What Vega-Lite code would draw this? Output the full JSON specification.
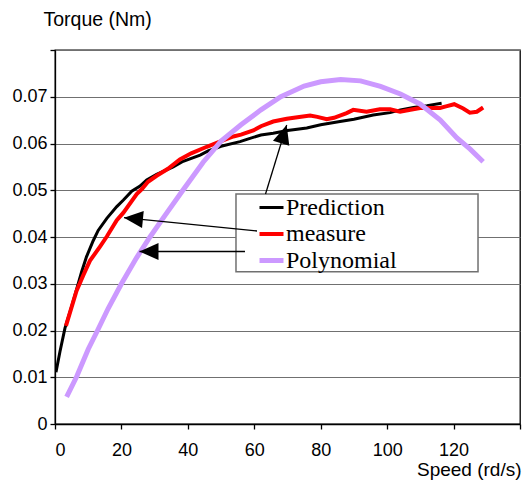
{
  "$schema": "https://vega.github.io/schema/vega-lite/v6.json",
  "width": 465,
  "height": 374,
  "autosize": {"type": "none"},
  "padding": {"left": 55, "top": 50, "right": 6, "bottom": 57},
  "background": "white",
  "config": {
    "view": {"stroke": "black", "strokeWidth": 1.3},
    "font": "Liberation Sans"
  },
  "datasets": {
    "curves": [
      {"s": "Prediction", "x": 0.3, "y": 0.0111},
      {"s": "Prediction", "x": 1.5, "y": 0.0155},
      {"s": "Prediction", "x": 3.0, "y": 0.0205},
      {"s": "Prediction", "x": 5.0, "y": 0.0251},
      {"s": "Prediction", "x": 6.5, "y": 0.0288},
      {"s": "Prediction", "x": 8.0, "y": 0.0325},
      {"s": "Prediction", "x": 9.5, "y": 0.0358},
      {"s": "Prediction", "x": 11.5, "y": 0.0392},
      {"s": "Prediction", "x": 13.0, "y": 0.0414},
      {"s": "Prediction", "x": 15.6, "y": 0.0440},
      {"s": "Prediction", "x": 18.6, "y": 0.0465},
      {"s": "Prediction", "x": 20.6, "y": 0.0479},
      {"s": "Prediction", "x": 23.1, "y": 0.0498},
      {"s": "Prediction", "x": 25.6, "y": 0.0509},
      {"s": "Prediction", "x": 27.6, "y": 0.0522},
      {"s": "Prediction", "x": 30.6, "y": 0.0534},
      {"s": "Prediction", "x": 35.6, "y": 0.0550},
      {"s": "Prediction", "x": 38.6, "y": 0.0562},
      {"s": "Prediction", "x": 43.7, "y": 0.0575},
      {"s": "Prediction", "x": 46.1, "y": 0.0584},
      {"s": "Prediction", "x": 50.0, "y": 0.0594},
      {"s": "Prediction", "x": 55.7, "y": 0.0604},
      {"s": "Prediction", "x": 58.7, "y": 0.0611},
      {"s": "Prediction", "x": 62.0, "y": 0.0618},
      {"s": "Prediction", "x": 65.7, "y": 0.0622},
      {"s": "Prediction", "x": 70.0, "y": 0.0628},
      {"s": "Prediction", "x": 75.8, "y": 0.0633},
      {"s": "Prediction", "x": 80.0, "y": 0.0640},
      {"s": "Prediction", "x": 85.8, "y": 0.0647},
      {"s": "Prediction", "x": 90.0, "y": 0.0652},
      {"s": "Prediction", "x": 95.8, "y": 0.0661},
      {"s": "Prediction", "x": 100.9, "y": 0.0666},
      {"s": "Prediction", "x": 104.0, "y": 0.0672},
      {"s": "Prediction", "x": 107.9, "y": 0.0677},
      {"s": "Prediction", "x": 112.0, "y": 0.0681},
      {"s": "Prediction", "x": 116.4, "y": 0.0686},
      {"s": "measure", "x": 3.3, "y": 0.0210},
      {"s": "measure", "x": 5.0, "y": 0.0250},
      {"s": "measure", "x": 6.5, "y": 0.0285},
      {"s": "measure", "x": 8.5, "y": 0.0318},
      {"s": "measure", "x": 10.5, "y": 0.0349},
      {"s": "measure", "x": 13.5, "y": 0.0379},
      {"s": "measure", "x": 15.6, "y": 0.0401},
      {"s": "measure", "x": 18.6, "y": 0.0436},
      {"s": "measure", "x": 20.6, "y": 0.0452},
      {"s": "measure", "x": 24.6, "y": 0.0492},
      {"s": "measure", "x": 26.1, "y": 0.0502},
      {"s": "measure", "x": 28.0, "y": 0.0518},
      {"s": "measure", "x": 30.6, "y": 0.0531},
      {"s": "measure", "x": 34.0, "y": 0.0546},
      {"s": "measure", "x": 37.6, "y": 0.0566},
      {"s": "measure", "x": 41.0, "y": 0.0579},
      {"s": "measure", "x": 45.7, "y": 0.0593},
      {"s": "measure", "x": 50.0, "y": 0.0605},
      {"s": "measure", "x": 53.7, "y": 0.0615},
      {"s": "measure", "x": 56.0, "y": 0.0619},
      {"s": "measure", "x": 59.7, "y": 0.0628},
      {"s": "measure", "x": 62.0, "y": 0.0637},
      {"s": "measure", "x": 65.7, "y": 0.0647},
      {"s": "measure", "x": 69.8, "y": 0.0653},
      {"s": "measure", "x": 73.0, "y": 0.0656},
      {"s": "measure", "x": 76.8, "y": 0.0660},
      {"s": "measure", "x": 79.0, "y": 0.0657},
      {"s": "measure", "x": 81.8, "y": 0.0652},
      {"s": "measure", "x": 84.0, "y": 0.0655},
      {"s": "measure", "x": 87.8, "y": 0.0665},
      {"s": "measure", "x": 89.8, "y": 0.0672},
      {"s": "measure", "x": 93.8, "y": 0.0668},
      {"s": "measure", "x": 97.8, "y": 0.0673},
      {"s": "measure", "x": 100.9, "y": 0.0673},
      {"s": "measure", "x": 103.9, "y": 0.0668},
      {"s": "measure", "x": 107.0, "y": 0.0672},
      {"s": "measure", "x": 109.9, "y": 0.0676},
      {"s": "measure", "x": 113.0, "y": 0.0676},
      {"s": "measure", "x": 115.9, "y": 0.0676},
      {"s": "measure", "x": 118.0, "y": 0.0680},
      {"s": "measure", "x": 120.2, "y": 0.0684},
      {"s": "measure", "x": 122.9, "y": 0.0675},
      {"s": "measure", "x": 124.9, "y": 0.0666},
      {"s": "measure", "x": 127.0, "y": 0.0668},
      {"s": "measure", "x": 128.9, "y": 0.0677},
      {"s": "Polynomial", "x": 3.5, "y": 0.0058},
      {"s": "Polynomial", "x": 6.5, "y": 0.0101},
      {"s": "Polynomial", "x": 10.0, "y": 0.0160},
      {"s": "Polynomial", "x": 12.8, "y": 0.0200},
      {"s": "Polynomial", "x": 16.0, "y": 0.0247},
      {"s": "Polynomial", "x": 20.0, "y": 0.0300},
      {"s": "Polynomial", "x": 24.5, "y": 0.0355},
      {"s": "Polynomial", "x": 28.6, "y": 0.0400},
      {"s": "Polynomial", "x": 33.5, "y": 0.0450},
      {"s": "Polynomial", "x": 38.5, "y": 0.0500},
      {"s": "Polynomial", "x": 44.6, "y": 0.0560},
      {"s": "Polynomial", "x": 50.0, "y": 0.0605},
      {"s": "Polynomial", "x": 56.0, "y": 0.0640},
      {"s": "Polynomial", "x": 62.0, "y": 0.0672},
      {"s": "Polynomial", "x": 68.0, "y": 0.0700},
      {"s": "Polynomial", "x": 75.0, "y": 0.0723},
      {"s": "Polynomial", "x": 80.0, "y": 0.0732},
      {"s": "Polynomial", "x": 86.0, "y": 0.0737},
      {"s": "Polynomial", "x": 92.0, "y": 0.0734},
      {"s": "Polynomial", "x": 98.0, "y": 0.0722},
      {"s": "Polynomial", "x": 104.0, "y": 0.0706},
      {"s": "Polynomial", "x": 110.0, "y": 0.0684},
      {"s": "Polynomial", "x": 116.0, "y": 0.0650},
      {"s": "Polynomial", "x": 121.0, "y": 0.0612},
      {"s": "Polynomial", "x": 125.0, "y": 0.0588},
      {"s": "Polynomial", "x": 128.9, "y": 0.0561}
    ],
    "arrows": [
      {"x": 69.76, "y": 0.06396, "x2": 63.38, "y2": 0.0492, "angle": 17},
      {"x": 20.77, "y": 0.04413, "x2": 60.82, "y2": 0.04128, "angle": 275.7},
      {"x": 25.44, "y": 0.0369, "x2": 57.2, "y2": 0.0369, "angle": 270}
    ],
    "box": [
      {"x": 54.49, "x2": 127.36, "y": 0.0492, "y2": 0.03258}
    ]
  },
  "layer": [
    {
      "data": {"name": "curves"},
      "mark": {"type": "line", "clip": true},
      "encoding": {
        "x": {
          "field": "x", "type": "quantitative",
          "scale": {"domain": [0, 140], "nice": false, "zero": false},
          "axis": {
            "values": [0, 20, 40, 60, 80, 100, 120, 140],
            "labelExpr": "datum.value == 140 ? '' : datum.label",
            "grid": false,
            "domainColor": "black", "domainWidth": 1.3,
            "tickColor": "black", "tickSize": 5, "tickWidth": 1.3,
            "labelFont": "Liberation Sans", "labelFontSize": 18, "labelColor": "black",
            "labelPadding": 12,
            "title": "Speed (rd/s)",
            "titleFont": "Liberation Sans", "titleFontSize": 19, "titleFontWeight": "normal", "titleColor": "black",
            "titleAnchor": null, "titleAlign": "right", "titleBaseline": "alphabetic",
            "titleX": 466, "titleY": 51
          }
        },
        "y": {
          "field": "y", "type": "quantitative",
          "scale": {"domain": [0, 0.08], "nice": false, "zero": false},
          "axis": {
            "values": [0, 0.01, 0.02, 0.03, 0.04, 0.05, 0.06, 0.07, 0.08],
            "labelExpr": "datum.value > 0.075 ? '' : (datum.value == 0 ? '0' : format(datum.value, '.2f'))",
            "grid": true, "gridColor": "#707070", "gridWidth": 1,
            "domainColor": "black", "domainWidth": 1.3,
            "tickColor": "black", "tickSize": 5, "tickWidth": 1.3,
            "labelFont": "Liberation Sans", "labelFontSize": 18, "labelColor": "black",
            "labelPadding": 3,
            "title": "Torque (Nm)",
            "titleFont": "Liberation Sans", "titleFontSize": 19.5, "titleFontWeight": "normal", "titleColor": "black",
            "titleAngle": 0, "titleAnchor": null, "titleAlign": "left", "titleBaseline": "alphabetic",
            "titleX": -12, "titleY": -25
          }
        },
        "color": {
          "field": "s", "type": "nominal",
          "scale": {"domain": ["Prediction", "measure", "Polynomial"], "range": ["#000000", "#FF0000", "#CC99FF"]},
          "legend": {
            "title": null,
            "orient": "none",
            "legendX": 202,
            "legendY": 144,
            "padding": 0,
            "symbolType": "stroke",
            "symbolSize": 576,
            "labelFont": "Liberation Serif",
            "labelFontSize": 24,
            "labelColor": "black",
            "labelOffset": 0,
            "rowPadding": -2,
            "labelBaseline": "middle"
          }
        },
        "strokeWidth": {
          "field": "s", "type": "nominal",
          "scale": {"domain": ["Prediction", "measure", "Polynomial"], "range": [3, 5, 3.5]},
          "legend": {
            "title": null,
            "orient": "none",
            "legendX": 202,
            "legendY": 144,
            "padding": 0,
            "symbolType": "stroke",
            "symbolSize": 576,
            "labelFont": "Liberation Serif",
            "labelFontSize": 24,
            "labelColor": "black",
            "labelOffset": 0,
            "rowPadding": -2,
            "labelBaseline": "middle"
          }
        }
      }
    },
    {
      "data": {"name": "box"},
      "mark": {"type": "rect", "fill": "white", "stroke": "#707070", "strokeWidth": 1.5},
      "encoding": {
        "x": {"field": "x", "type": "quantitative"},
        "x2": {"field": "x2"},
        "y": {"field": "y", "type": "quantitative"},
        "y2": {"field": "y2"}
      }
    },
    {
      "data": {"name": "arrows"},
      "mark": {"type": "rule", "color": "black", "strokeWidth": 1.3},
      "encoding": {
        "x": {"field": "x", "type": "quantitative"},
        "y": {"field": "y", "type": "quantitative"},
        "x2": {"field": "x2"},
        "y2": {"field": "y2"}
      }
    },
    {
      "data": {"name": "arrows"},
      "mark": {"type": "point", "shape": "M0,0L-0.45,1L0.45,1Z", "filled": true, "color": "black", "opacity": 1, "size": 1444, "strokeWidth": 0},
      "encoding": {
        "x": {"field": "x", "type": "quantitative"},
        "y": {"field": "y", "type": "quantitative"},
        "angle": {"field": "angle", "type": "quantitative", "scale": null}
      }
    }
  ]
}
